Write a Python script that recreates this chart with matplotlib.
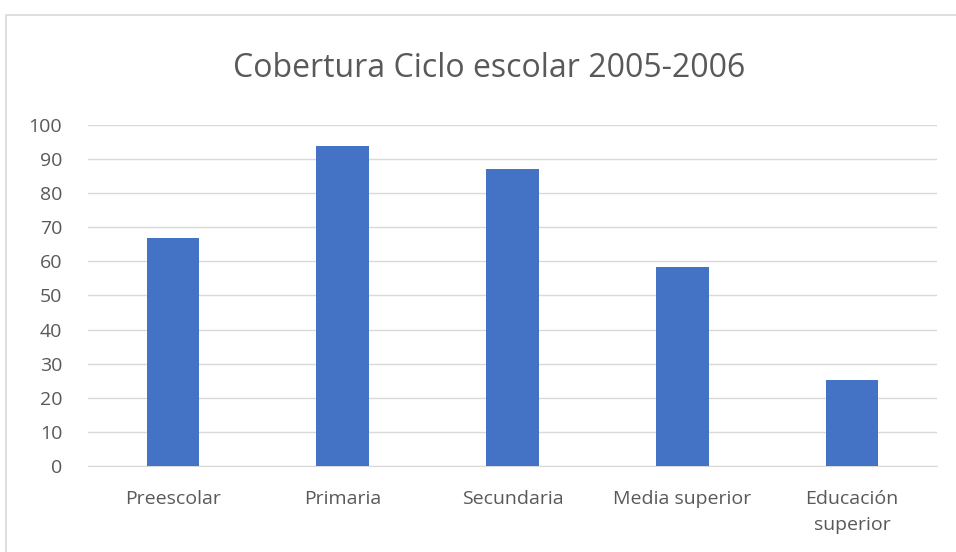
import numpy as np
import matplotlib.pyplot as plt
from matplotlib.patches import Rectangle

# Data
categories = ['Preescolar', 'Primaria', 'Secundaria', 'Media superior', 'Educación\nsuperior']
cobertura = [66.8, 93.8, 87.0, 58.3, 25.1]
yticks = np.arange(0, 101, 10)

plt.rcParams['font.family'] = ['Open Sans', 'DejaVu Sans']

fig = plt.figure(figsize=(9.56, 5.52), dpi=100)
ax = fig.add_axes([0.092, 0.1558, 0.888, 0.6178])

x = np.arange(len(categories))
ax.bar(x, cobertura, width=0.31, color='#4472C4', zorder=3)

ax.set_xlim(-0.5, len(categories) - 0.5)
ax.set_ylim(0, 100)
ax.set_yticks(yticks)
ax.set_xticks(x)
ax.set_xticklabels(categories, fontsize=14, color='#595959', linespacing=1.6)
ax.tick_params(axis='y', labelsize=14, labelcolor='#595959', length=0, pad=18.5)
ax.tick_params(axis='x', length=0, pad=17)
ax.grid(axis='y', color='#d9d9d9', lw=1, zorder=0)
for s in ['top', 'right', 'left']:
    ax.spines[s].set_visible(False)
ax.spines['bottom'].set_color('#d9d9d9')

fig.text(0.512, 0.876, 'Cobertura Ciclo escolar 2005-2006', ha='center', va='center',
         fontsize=23, color='#595959')

# chart border
fig.patches.append(Rectangle((6 / 956, -0.1), 1.1, 1 - 15 / 552 + 0.1, transform=fig.transFigure,
                             fill=False, ec='#d9d9d9', lw=1.2))

plt.savefig('out.png', dpi=100)
